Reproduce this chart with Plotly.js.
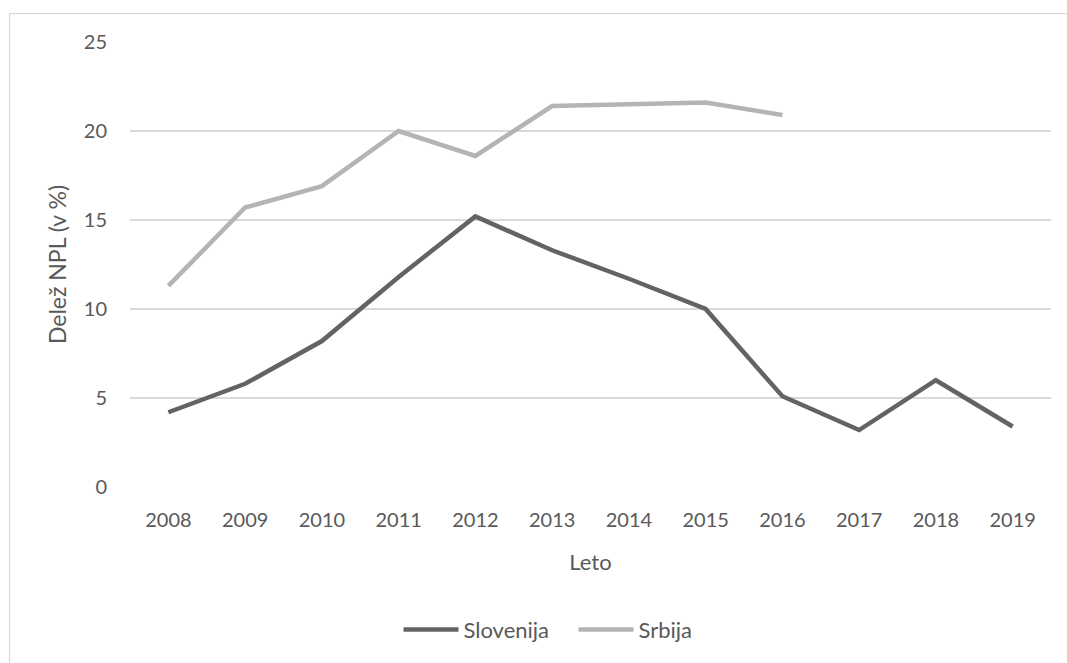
<!DOCTYPE html>
<html>
<head>
<meta charset="utf-8">
<script src="https://cdn.plot.ly/plotly-3.0.1.min.js"></script>
<style>
  html, body { margin: 0; padding: 0; background: #ffffff; }
  #chart { width: 1067px; height: 663px; }
</style>
</head>
<body>
<div id="chart"></div>
<script>
const years = ["2008","2009","2010","2011","2012","2013","2014","2015","2016","2017","2018","2019"];
const slovenija = [4.2, 5.8, 8.2, 11.8, 15.2, 13.3, 11.7, 10.0, 5.1, 3.2, 6.0, 3.4];
const srbijaYears = ["2008","2009","2010","2011","2012","2013","2014","2015","2016"];
const srbija = [11.3, 15.7, 16.9, 20.0, 18.6, 21.4, 21.5, 21.6, 20.9];
const seriesNames = ["Slovenija", "Srbija"];
const yTickVals = [0, 5, 10, 15, 20, 25];

const FONT = "Lato, 'Open Sans', sans-serif";
const TXT = "#595959";

const traces = [
  {
    x: years, y: slovenija, name: seriesNames[0], type: "scatter", mode: "lines",
    line: { color: "#636363", width: 4.5 }
  },
  {
    x: srbijaYears, y: srbija, name: seriesNames[1], type: "scatter", mode: "lines",
    line: { color: "#b4b4b4", width: 4.5 }
  }
];

const L = 130, R = 16, T = 42, B = 173.5;
const W = 1067, H = 663;
const pw = W - L - R, ph = H - T - B;

const layout = {
  width: W, height: H,
  margin: { l: L, r: R, t: T, b: B, pad: 0 },
  paper_bgcolor: "#ffffff",
  plot_bgcolor: "#ffffff",
  font: { family: FONT, size: 20, color: TXT },
  showlegend: true,
  legend: {
    orientation: "h",
    x: (573.5 - L) / pw, xanchor: "center",
    y: (T + ph - 633) / ph, yanchor: "middle",
    font: { family: FONT, size: 22, color: TXT },
    itemwidth: 55,
    entrywidth: 105,
    entrywidthmode: "pixels",
    traceorder: "normal"
  },
  xaxis: {
    type: "category",
    categoryorder: "array", categoryarray: years,
    range: [-0.5, 11.5],
    showgrid: false, zeroline: false, showline: false,
    ticks: "", ticklabelstandoff: 19,
    tickfont: { family: FONT, size: 20, color: TXT },
    title: { text: "Leto", font: { family: FONT, size: 22, color: TXT }, standoff: 24 },
    fixedrange: true
  },
  yaxis: {
    range: [0, 25],
    tickvals: yTickVals,
    ticktext: yTickVals.map(String),
    showgrid: true, gridcolor: "#d9d9d9", gridwidth: 1.5,
    zeroline: false, showline: false,
    ticks: "", ticklabelstandoff: 22,
    tickfont: { family: FONT, size: 20, color: TXT },
    title: { text: "Delež NPL (v %)", font: { family: FONT, size: 23, color: TXT }, standoff: 10 },
    fixedrange: true
  },
  shapes: [
    {
      type: "rect", xref: "paper", yref: "paper",
      x0: (9.5 - L) / pw, x1: (1090 - L) / pw,
      y0: (T + ph - 690) / ph, y1: (T + ph - 13.5) / ph,
      line: { color: "#d9d9d9", width: 1.2 },
      fillcolor: "rgba(0,0,0,0)",
      layer: "below"
    }
  ]
};

Plotly.newPlot("chart", traces, layout, { displayModeBar: false, staticPlot: true });
</script>
</body>
</html>
